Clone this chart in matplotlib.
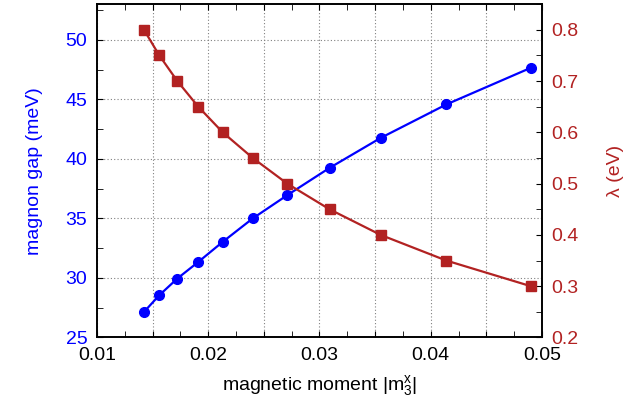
import numpy as np
import matplotlib
matplotlib.use("Agg")
import matplotlib.pyplot as plt
from matplotlib.ticker import MultipleLocator, FixedLocator

plt.rcParams['font.family'] = ['Liberation Sans', 'DejaVu Sans']
plt.rcParams['mathtext.fontset'] = 'custom'
plt.rcParams['mathtext.rm'] = 'Liberation Sans'
plt.rcParams['mathtext.it'] = 'Liberation Sans'

# data
moment = [0.01422, 0.0156, 0.01722, 0.0191, 0.0213, 0.0240,
          0.0271, 0.0309, 0.0355, 0.0414, 0.0490]
gap = [27.14, 28.55, 29.95, 31.34, 33.03, 35.0,
       36.95, 39.24, 41.76, 44.57, 47.65]
lam = [0.80, 0.75, 0.70, 0.65, 0.60, 0.55,
       0.50, 0.45, 0.40, 0.35, 0.30]

blue = '#0000ff'
red = '#b22222'
fs = 14

fig = plt.figure(figsize=(6.44, 4.08), dpi=100)
ax = fig.add_axes([0.1506, 0.1728, 0.6910, 0.8172])
ax2 = ax.twinx()

ax.plot(moment, gap, '-o', color=blue, lw=1.6, ms=7, zorder=3)
ax2.plot(moment, lam, '-s', color=red, lw=1.6, ms=7, zorder=3)

ax.set_xlim(0.01, 0.05)
ax.set_ylim(25, 53)
ax2.set_ylim(0.2, 0.85)

# grid every 0.005 in x, labels every 0.01
xt = np.arange(0.01, 0.0501, 0.005)
ax.set_xticks(xt)
ax.set_xticklabels(['%.2f' % v if round(v * 1000) % 10 == 0 else '' for v in xt])
ax.xaxis.set_minor_locator(MultipleLocator(0.0025))

ax.yaxis.set_major_locator(MultipleLocator(5))
ax.yaxis.set_minor_locator(MultipleLocator(2.5))
ax2.yaxis.set_major_locator(FixedLocator([0.2, 0.3, 0.4, 0.5, 0.6, 0.7, 0.8]))
ax2.yaxis.set_minor_locator(MultipleLocator(0.05))

ax.grid(True, which='major', color='#808080', ls=(0, (1, 2)), lw=0.8)
ax.set_axisbelow(True)

ax.tick_params(axis='x', which='both', direction='in', top=True, bottom=True,
               labelsize=fs, pad=7, length=4)
ax.tick_params(axis='y', which='both', direction='in', right=False,
               labelsize=fs, labelcolor=blue, pad=7, length=4)
ax2.tick_params(axis='y', which='both', direction='in', labelsize=fs,
                labelcolor=red, pad=7, length=4)

for a in (ax, ax2):
    for s in a.spines.values():
        s.set_linewidth(1.2)

ax.set_xlabel(r'magnetic moment |m$_3^\mathrm{x}$|', fontsize=fs, labelpad=6)
ax.set_ylabel('magnon gap (meV)', fontsize=fs, color=blue, labelpad=16)
ax2.set_ylabel('λ (eV)', fontsize=fs, color=red, rotation=90, labelpad=20)

fig.savefig('out.png', dpi=100)
